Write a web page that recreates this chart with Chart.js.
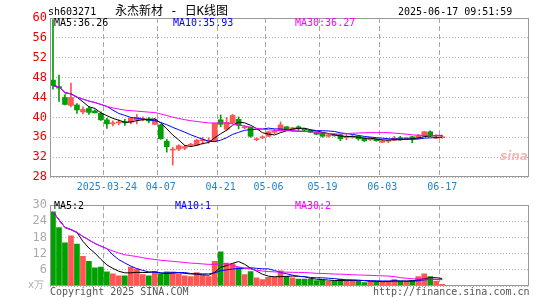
<!DOCTYPE html>
<html><head><meta charset="utf-8">
<script src="https://cdn.jsdelivr.net/npm/chart.js@4.4.0/dist/chart.umd.min.js"></script>
<style>
html,body{margin:0;padding:0;background:#fff;width:545px;height:300px;overflow:hidden;}
#wrap{position:relative;width:545px;height:300px;font-family:"DejaVu Sans Mono",monospace;}
canvas{position:absolute;left:0;}
.t{position:absolute;white-space:pre;font-size:10px;line-height:12px;color:#000;}
</style></head><body>
<div id="wrap">
<canvas id="pc" width="545" height="195" style="top:0;width:545px;height:195px"></canvas>
<canvas id="vc" width="545" height="105" style="top:195px;width:545px;height:105px"></canvas>
<div class="t" style="left:48px;top:6px;">sh603271</div>
<div class="t" style="left:115px;top:4px;font-size:12px;line-height:14px;font-family:'DejaVu Sans Mono','Noto Sans CJK SC',monospace;">永杰新材 - 日K线图</div>
<div class="t" style="left:398px;top:6px;">2025-06-17 09:51:59</div>
<div class="t" style="left:54px;top:17px;">MA5:36.26</div>
<div class="t" style="left:173px;top:17px;color:#0000ff;">MA10:35.93</div>
<div class="t" style="left:295px;top:17px;color:#ff00ff;">MA30:36.27</div>
<div class="t" style="left:54px;top:200px;">MA5:2</div>
<div class="t" style="left:175px;top:200px;color:#0000ff;">MA10:1</div>
<div class="t" style="left:295px;top:200px;color:#ff00ff;">MA30:2</div>
<div class="t" style="left:28px;top:279px;color:#aaa;">x万</div>
<div class="t" style="left:50px;top:286px;color:#555;">Copyright 2025 SINA.COM</div>
<div class="t" style="left:373px;top:286px;color:#555;">http://finance.sina.com.cn</div>
<div class="t" style="left:500px;top:150px;color:#f6b8b8;font-family:'DejaVu Sans';font-style:italic;font-weight:bold;font-size:12px;">sina</div>
</div>
<script>
const dates = ['2025-03-11','2025-03-12','2025-03-13','2025-03-14','2025-03-17','2025-03-18','2025-03-19','2025-03-20','2025-03-21','2025-03-24',
'2025-03-25','2025-03-26','2025-03-27','2025-03-28','2025-03-31','2025-04-01','2025-04-02','2025-04-03','2025-04-07','2025-04-08',
'2025-04-09','2025-04-10','2025-04-11','2025-04-14','2025-04-15','2025-04-16','2025-04-17','2025-04-18','2025-04-21','2025-04-22',
'2025-04-23','2025-04-24','2025-04-25','2025-04-28','2025-04-29','2025-04-30','2025-05-06','2025-05-07','2025-05-08','2025-05-09',
'2025-05-12','2025-05-13','2025-05-14','2025-05-15','2025-05-16','2025-05-19','2025-05-20','2025-05-21','2025-05-22','2025-05-23',
'2025-05-26','2025-05-27','2025-05-28','2025-05-29','2025-05-30','2025-06-03','2025-06-04','2025-06-05','2025-06-06','2025-06-09',
'2025-06-10','2025-06-11','2025-06-12','2025-06-13','2025-06-16','2025-06-17'];
const openP = [47.5,46.2,44.0,42.4,42.5,41.1,41.8,41.3,40.8,39.5, 38.7,38.9,39.1,39.0,39.5,39.6,39.7,38.6,38.5,35.2,
33.4,33.6,33.8,34.4,34.4,35.3,35.2,35.2,39.5,37.6, 38.9,39.6,37.9,38.0,35.5,35.9,36.2,37.0,37.3,38.1,
37.5,38.1,37.7,37.4,37.0,36.9,36.2,36.6,36.5,35.9, 36.0,36.2,35.8,35.5,35.6,35.0,35.2,35.4,35.9,35.7,
36.1,35.8,36.3,37.1,35.8,35.9];
const highP = [59.7,48.5,44.6,46.9,42.8,42.1,42.1,41.5,41.1,39.8, 39.3,39.5,39.6,39.9,40.6,40.1,40.0,39.8,38.6,35.6,
34.0,34.5,34.4,34.8,35.6,36.0,35.9,38.8,40.5,40.0, 40.6,40.1,38.3,38.1,35.9,36.3,37.2,37.6,39.1,38.2,
38.0,38.3,37.8,37.5,37.1,37.0,36.7,36.7,36.6,36.8, 36.4,36.3,35.9,35.9,35.7,35.5,35.5,36.2,36.2,36.0,
36.2,36.6,37.2,37.3,36.5,36.4];
const lowP = [45.7,43.2,42.5,42.1,40.8,40.7,40.6,40.9,39.4,37.8, 38.3,38.5,38.4,38.7,38.7,39.3,38.9,38.5,35.6,33.0,
30.4,33.3,33.5,34.1,34.3,34.6,34.8,35.1,38.1,37.3, 38.7,37.7,37.7,36.0,35.3,35.7,36.1,36.7,37.2,37.4,
37.2,37.4,37.3,36.9,36.5,36.0,36.0,36.2,35.3,35.5, 35.8,35.4,35.1,35.3,35.2,34.9,34.9,35.3,35.4,35.5,
34.9,35.7,36.2,36.1,35.7,35.8];
const closeP = [46.4,45.9,42.6,44.0,41.5,41.6,41.0,40.9,39.5,38.7, 38.9,39.1,38.9,39.8,40.0,39.8,39.3,39.6,35.7,34.1,
33.6,34.3,34.1,34.5,35.4,35.4,35.3,38.8,38.6,39.0, 40.4,38.4,38.1,36.2,35.7,36.1,37.1,37.2,38.5,37.6,
37.9,37.7,37.4,37.0,36.6,36.2,36.5,36.3,35.7,36.1, 36.2,35.7,35.3,35.8,35.3,35.3,35.4,35.8,35.6,35.9,
35.7,36.3,37.1,36.3,36.0,36.1];
const volume = [27.5,21.7,16.0,18.6,15.6,11.0,9.2,6.7,7.0,5.3, 4.5,3.8,3.8,7.0,6.3,4.2,3.8,5.3,4.5,5.3,
5.3,4.5,3.8,3.5,5.0,4.1,3.5,9.2,12.7,8.5, 8.2,6.8,4.2,5.4,3.0,2.4,3.2,3.2,5.6,3.5,
3.0,2.6,2.6,2.5,2.0,2.2,1.7,1.8,2.6,2.2, 2.2,1.7,1.3,1.8,1.7,1.7,1.7,2.4,1.7,1.7,
2.1,3.5,4.5,3.5,1.8,0.6];
const tickDates = ['2025-03-24','2025-04-07','2025-04-21','2025-05-06','2025-05-19','2025-06-03','2025-06-17'];
const tickText = ['2025-03-24','04-07','04-21','05-06','05-19','06-03','06-17'];
const maPeriods = [5, 10, 30];
const emptySlots = 14;

const UP = '#ff5555', DOWN = '#00a000';
const MA_COLORS = ['#000000', '#0000ff', '#ff00ff'];
const MONO = "'DejaVu Sans Mono', monospace";

function movingAverage(values, n) {
  return values.map((_, i) => {
    const s = values.slice(Math.max(0, i - n + 1), i + 1);
    return s.reduce((a, b) => a + b, 0) / s.length;
  });
}
const labels = dates.concat(Array(emptySlots).fill(''));
const candleColor = dates.map((_, i) => closeP[i] >= openP[i] ? UP : DOWN);

const framePlugin = {
  id: 'frame',
  afterDraw(chart) {
    const { ctx, chartArea: a } = chart;
    ctx.save();
    ctx.strokeStyle = '#999';
    ctx.lineWidth = 1;
    ctx.strokeRect(Math.round(a.left) + 0.5, Math.round(a.top) + 0.5, Math.round(a.right - a.left) - 1, Math.round(a.bottom - a.top) - 1);
    ctx.restore();
  }
};

function xScale(showLabels, height) {
  return {
    type: 'category',
    offset: true,
    grid: {
      offset: true,
      drawTicks: false,
      lineWidth: 1,
      color: (c) => (c.tick && tickDates.includes(labels[c.index])) ? '#a8a8a8' : 'rgba(0,0,0,0)'
    },
    border: { display: false, dash: [5, 3] },
    ticks: {
      display: showLabels,
      autoSkip: false,
      maxRotation: 0,
      minRotation: 0,
      padding: 4,
      color: '#1b86d6',
      font: { family: MONO, size: 10 },
      callback: (v, i) => { const k = tickDates.indexOf(labels[i]); return k >= 0 ? tickText[k] : ''; }
    },
    afterFit: (s) => { s.height = height; }
  };
}

function maDatasets(values) {
  return maPeriods.map((p, j) => ({
    type: 'line',
    data: movingAverage(values, p),
    borderColor: MA_COLORS[j],
    borderWidth: 1,
    pointRadius: 0,
    tension: 0,
    fill: false,
    order: 2 - j
  }));
}

new Chart(document.getElementById('pc'), {
  type: 'bar',
  data: {
    labels,
    datasets: [
      ...maDatasets(closeP),
      { data: dates.map((_, i) => [openP[i], closeP[i]]), backgroundColor: candleColor, barThickness: 5, minBarLength: 1, grouped: false, order: 3, borderWidth: 0 },
      { data: dates.map((_, i) => [lowP[i], highP[i]]), backgroundColor: candleColor, barThickness: 1, grouped: false, order: 4, borderWidth: 0 }
    ]
  },
  options: {
    responsive: false,
    animation: false,
    events: [],
    layout: { padding: { left: 0, right: 16, top: 18, bottom: 0 } },
    plugins: { legend: { display: false }, tooltip: { enabled: false } },
    scales: {
      x: xScale(true, 18),
      y: {
        min: 28, max: 60,
        ticks: { stepSize: 4, autoSkip: false, color: '#ee0000', padding: 3, font: { family: MONO, size: 12 } },
        grid: { color: '#b0b0b0', drawTicks: false },
        border: { display: false, dash: [1, 2] },
        afterFit: (s) => { s.width = 50; }
      }
    }
  },
  plugins: [framePlugin]
});

new Chart(document.getElementById('vc'), {
  type: 'bar',
  data: {
    labels,
    datasets: [
      ...maDatasets(volume),
      { data: volume, backgroundColor: candleColor, barThickness: 5, grouped: false, order: 3, borderWidth: 0 }
    ]
  },
  options: {
    responsive: false,
    animation: false,
    events: [],
    layout: { padding: { left: 0, right: 16, top: 7, bottom: 0 } },
    plugins: { legend: { display: false }, tooltip: { enabled: false } },
    scales: {
      x: xScale(false, 14),
      y: {
        min: 0, max: 30,
        ticks: { stepSize: 6, autoSkip: false, color: '#aaaaaa', padding: 3, font: { family: MONO, size: 12 }, callback: (v) => v === 0 ? '' : v },
        grid: { color: '#b0b0b0', drawTicks: false },
        border: { display: false, dash: [1, 2] },
        afterFit: (s) => { s.width = 50; }
      }
    }
  },
  plugins: [framePlugin]
});
</script>
</body></html>
